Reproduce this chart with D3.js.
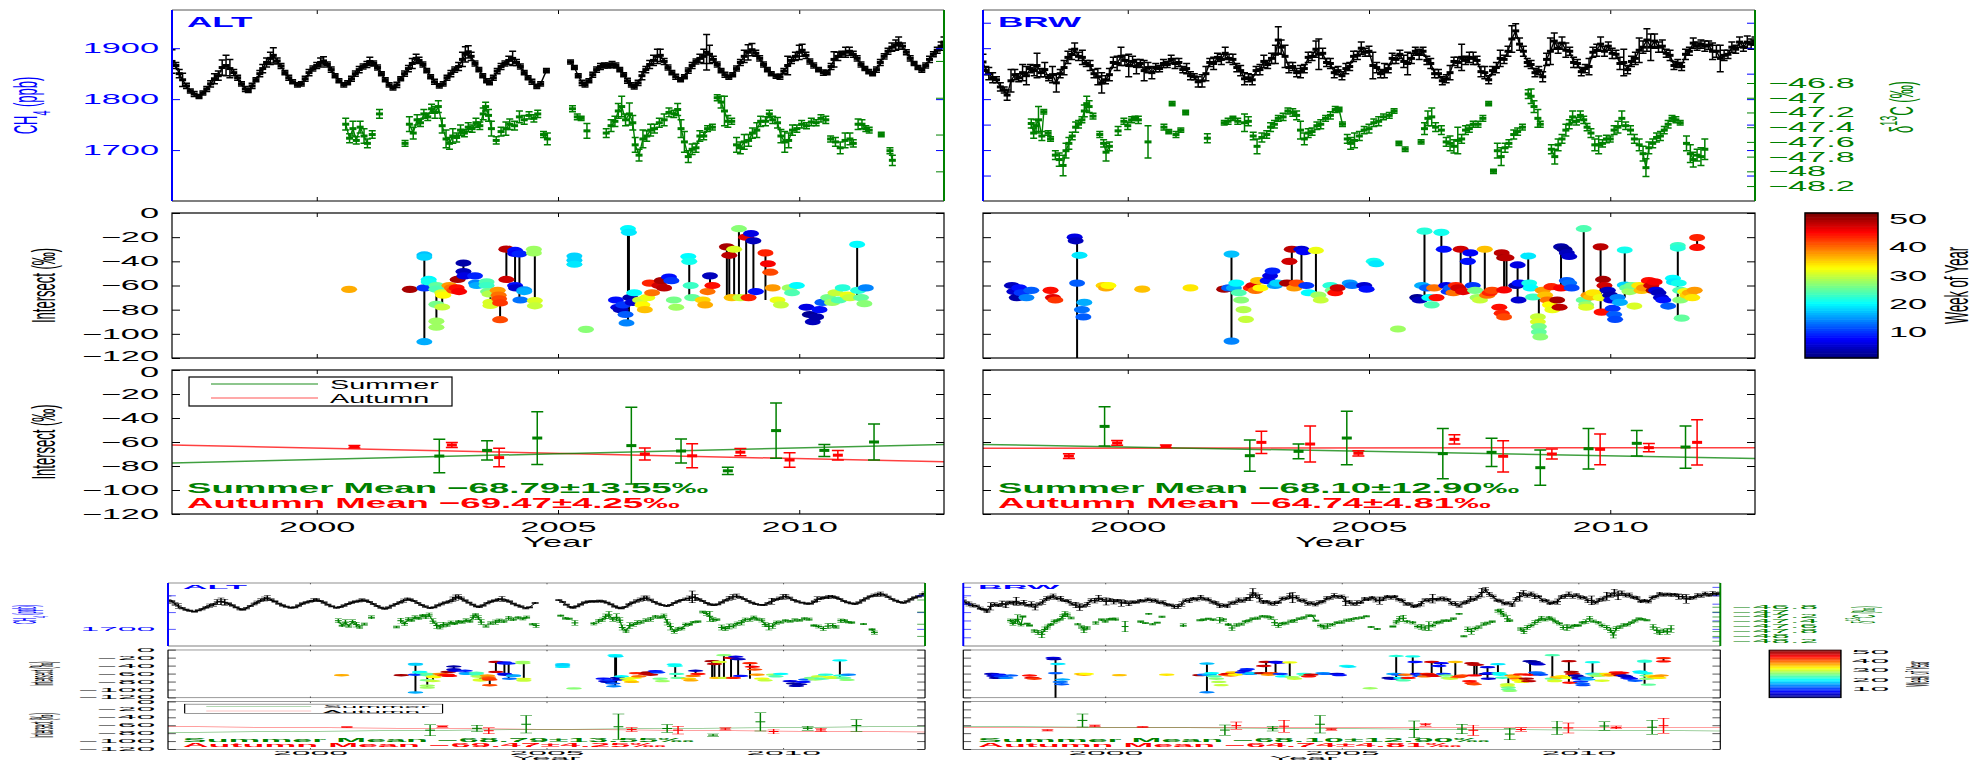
<!DOCTYPE html>
<html>
<head>
<meta charset="utf-8">
<script src="https://cdn.jsdelivr.net/npm/d3@7"></script>
<style>
  body { margin: 0; background: #fff; }
  svg { display: block; }
  text { font-family: "Liberation Sans", Arial, Helvetica, sans-serif; }
</style>
</head>
<body>
<svg id="fig" width="1986" height="761"></svg>
<script>
// ---------------- data ----------------
// CH4 weekly means [decimal year, ppb, error]
const altCH4 = [
[1997.00,1874,23],[1997.08,1866,6],[1997.15,1850,8],[1997.22,1838,13],[1997.30,1826,5],[1997.38,1816,4],[1997.46,1810,5],[1997.56,1805,4],[1997.64,1812,4],[1997.72,1820,5],[1997.80,1830,6],[1997.88,1840,10],[1997.96,1846,9],[1998.04,1862,15],[1998.12,1866,20],[1998.20,1860,18],[1998.28,1852,6],[1998.36,1842,5],[1998.44,1830,4],[1998.52,1820,5],[1998.58,1817,4],[1998.66,1826,5],[1998.74,1838,4],[1998.82,1850,6],[1998.88,1860,8],[1998.96,1872,9],[1999.04,1880,12],[1999.10,1886,15],[1999.18,1875,6],[1999.26,1865,5],[1999.34,1852,4],[1999.42,1842,5],[1999.50,1834,4],[1999.60,1828,4],[1999.68,1830,4],[1999.76,1840,5],[1999.84,1852,6],[1999.92,1860,5],[2000.00,1866,6],[2000.08,1872,9],[2000.14,1875,8],[2000.22,1868,5],[2000.30,1858,5],[2000.38,1846,4],[2000.46,1836,4],[2000.56,1828,4],[2000.64,1832,4],[2000.72,1840,5],[2000.80,1850,5],[2000.88,1858,6],[2000.96,1864,5],[2001.04,1868,6],[2001.10,1874,8],[2001.18,1870,5],[2001.26,1862,5],[2001.34,1850,4],[2001.42,1838,4],[2001.50,1828,4],[2001.58,1822,4],[2001.66,1828,5],[2001.74,1840,4],[2001.82,1850,5],[2001.90,1860,6],[2001.98,1870,10],[2002.06,1880,8],[2002.12,1876,6],[2002.20,1868,5],[2002.28,1856,4],[2002.36,1844,4],[2002.44,1834,5],[2002.54,1826,4],[2002.62,1830,4],[2002.70,1842,5],[2002.78,1850,6],[2002.86,1858,5],[2002.94,1864,8],[2003.02,1878,14],[2003.08,1888,15],[2003.14,1893,12],[2003.20,1884,8],[2003.28,1870,5],[2003.36,1858,4],[2003.44,1846,4],[2003.52,1836,4],[2003.58,1832,4],[2003.66,1842,5],[2003.74,1855,5],[2003.82,1864,6],[2003.90,1870,5],[2003.98,1876,8],[2004.06,1880,14],[2004.14,1872,6],[2004.22,1864,5],[2004.30,1852,4],[2004.38,1842,4],[2004.46,1834,5],[2004.56,1825,4],[2004.64,1830,4],[2004.76,1856,4],
[2005.26,1873,4],[2005.34,1862,4],[2005.42,1846,4],[2005.50,1832,5],[2005.56,1828,4],[2005.64,1836,4],[2005.72,1848,5],[2005.80,1858,5],[2005.88,1864,6],[2005.96,1866,5],[2006.04,1866,5],[2006.12,1868,6],[2006.20,1866,5],[2006.28,1858,4],[2006.36,1848,4],[2006.44,1836,5],[2006.52,1828,4],[2006.58,1824,4],[2006.66,1832,5],[2006.74,1846,8],[2006.82,1858,6],[2006.90,1868,8],[2006.98,1876,10],[2007.06,1884,14],[2007.12,1886,12],[2007.20,1874,6],[2007.28,1862,5],[2007.36,1852,4],[2007.44,1844,5],[2007.54,1838,4],[2007.62,1844,4],[2007.70,1856,5],[2007.78,1866,6],[2007.86,1874,5],[2007.94,1880,8],[2008.02,1884,14],[2008.08,1892,35],[2008.14,1888,18],[2008.22,1878,6],[2008.30,1868,5],[2008.38,1856,4],[2008.46,1848,5],[2008.54,1843,4],[2008.62,1848,4],[2008.70,1860,5],[2008.78,1872,6],[2008.86,1884,12],[2008.94,1892,15],[2009.02,1897,12],[2009.10,1890,6],[2009.18,1880,5],[2009.26,1868,5],[2009.34,1858,4],[2009.42,1850,4],[2009.52,1845,4],[2009.60,1844,5],[2009.68,1855,5],[2009.76,1866,18],[2009.84,1876,6],[2009.92,1884,8],[2010.00,1892,14],[2010.06,1896,12],[2010.14,1886,6],[2010.22,1874,5],[2010.30,1866,5],[2010.40,1858,4],[2010.50,1852,5],[2010.58,1852,4],[2010.66,1864,6],[2010.72,1878,15],[2010.80,1884,8],[2010.88,1888,6],[2010.96,1892,10],[2011.04,1894,8],[2011.12,1888,6],[2011.20,1880,5],[2011.28,1868,5],[2011.36,1860,4],[2011.44,1854,4],[2011.52,1850,4],[2011.60,1858,5],[2011.68,1872,6],[2011.76,1884,5],[2011.84,1894,6],[2011.92,1902,8],[2012.00,1906,10],[2012.06,1910,12],[2012.14,1904,6],[2012.22,1892,5],[2012.30,1880,5],[2012.38,1870,4],[2012.46,1862,4],[2012.54,1857,4],[2012.62,1866,5],[2012.70,1878,6],[2012.78,1888,5],[2012.86,1896,6],[2012.94,1904,8],[2013.00,1912,10]
];
const brwCH4 = [
[1997.00,1873,15],[1997.06,1856,8],[1997.12,1850,12],[1997.20,1842,10],[1997.28,1838,6],[1997.36,1824,8],[1997.44,1818,6],[1997.50,1808,10],[1997.58,1836,22],[1997.66,1848,10],[1997.74,1842,8],[1997.82,1852,16],[1997.90,1846,18],[1997.98,1860,8],[1998.06,1856,10],[1998.12,1866,24],[1998.20,1852,8],[1998.28,1858,14],[1998.36,1842,6],[1998.44,1848,16],[1998.52,1832,18],[1998.60,1850,8],[1998.68,1862,14],[1998.76,1882,12],[1998.84,1888,10],[1998.90,1898,12],[1998.98,1884,8],[1999.06,1882,14],[1999.14,1870,6],[1999.22,1866,10],[1999.30,1850,8],[1999.38,1844,16],[1999.46,1832,20],[1999.54,1838,8],[1999.62,1848,12],[1999.70,1872,10],[1999.78,1870,14],[1999.86,1884,18],[1999.94,1876,10],[2000.02,1866,22],[2000.10,1874,10],[2000.18,1864,14],[2000.26,1870,8],[2000.34,1856,20],[2000.42,1862,10],[2000.50,1852,12],[2000.58,1862,8],[2000.66,1860,6],[2000.74,1870,8],[2000.82,1868,6],[2000.90,1878,8],[2000.98,1870,10],[2001.06,1872,8],[2001.14,1858,6],[2001.22,1860,10],[2001.30,1846,8],[2001.38,1844,6],[2001.46,1834,10],[2001.54,1836,12],[2001.62,1850,14],[2001.70,1872,8],[2001.78,1870,12],[2001.86,1882,8],[2001.94,1878,10],[2002.02,1890,12],[2002.10,1880,8],[2002.18,1878,10],[2002.26,1862,8],[2002.34,1856,10],[2002.42,1840,12],[2002.50,1842,8],[2002.58,1838,10],[2002.66,1856,8],[2002.74,1858,10],[2002.82,1874,12],[2002.90,1868,8],[2002.98,1880,10],[2003.06,1888,18],[2003.12,1916,26],[2003.18,1902,14],[2003.26,1884,22],[2003.34,1862,10],[2003.42,1864,8],[2003.50,1852,8],[2003.58,1854,12],[2003.66,1860,8],[2003.74,1882,10],[2003.82,1884,8],[2003.90,1898,16],[2003.96,1888,30],[2004.04,1890,10],[2004.12,1872,8],[2004.20,1870,10],[2004.28,1852,10],[2004.36,1856,8],[2004.44,1846,8],[2004.52,1860,10],[2004.60,1864,8],[2004.68,1884,10],[2004.76,1886,8],[2004.84,1900,12],[2004.92,1892,8],[2005.00,1894,10],[2005.08,1866,26],[2005.16,1862,10],[2005.24,1850,8],[2005.32,1856,14],[2005.40,1860,8],[2005.48,1880,10],[2005.56,1878,8],[2005.64,1888,8],[2005.72,1874,12],[2005.80,1870,22],[2005.88,1880,10],[2005.96,1894,8],[2006.04,1888,10],[2006.12,1894,8],[2006.20,1876,8],[2006.28,1870,10],[2006.36,1850,8],[2006.44,1850,8],[2006.52,1836,8],[2006.60,1840,8],[2006.68,1852,14],[2006.76,1874,8],[2006.84,1872,10],[2006.92,1882,26],[2007.00,1876,8],[2007.08,1882,10],[2007.16,1880,12],[2007.24,1876,8],[2007.32,1854,10],[2007.40,1852,12],[2007.48,1838,8],[2007.56,1856,8],[2007.64,1862,10],[2007.72,1880,16],[2007.80,1878,8],[2007.88,1894,10],[2007.96,1918,26],[2008.04,1934,14],[2008.12,1908,12],[2008.20,1894,10],[2008.28,1872,8],[2008.36,1868,8],[2008.44,1852,8],[2008.52,1856,8],[2008.60,1844,10],[2008.68,1878,12],[2008.76,1894,26],[2008.84,1914,16],[2008.92,1900,10],[2009.00,1910,12],[2009.08,1896,14],[2009.16,1894,8],[2009.24,1872,10],[2009.32,1870,8],[2009.40,1854,8],[2009.48,1860,8],[2009.56,1864,16],[2009.64,1892,10],[2009.72,1896,12],[2009.80,1908,14],[2009.88,1894,10],[2009.96,1904,8],[2010.04,1890,10],[2010.12,1888,8],[2010.20,1870,12],[2010.28,1872,26],[2010.36,1858,8],[2010.44,1874,10],[2010.52,1880,12],[2010.60,1896,24],[2010.68,1902,12],[2010.76,1916,22],[2010.84,1902,26],[2010.92,1914,14],[2011.00,1902,10],[2011.08,1904,12],[2011.16,1890,8],[2011.24,1886,10],[2011.32,1866,8],[2011.40,1870,8],[2011.48,1864,8],[2011.56,1888,10],[2011.64,1894,8],[2011.72,1910,10],[2011.80,1904,8],[2011.88,1908,8],[2011.96,1904,10],[2012.04,1906,8],[2012.12,1894,16],[2012.20,1894,12],[2012.28,1880,26],[2012.36,1886,10],[2012.44,1888,8],[2012.52,1902,10],[2012.60,1898,8],[2012.68,1912,10],[2012.76,1902,8],[2012.84,1912,12],[2012.92,1908,10],[2013.00,1914,8]
];

// delta13C of CH4 [decimal year, permil, error]
const altD13 = [
[2000.60,-47.36,0.08],[2000.68,-47.55,0.06],[2000.75,-47.42,0.10],[2000.82,-47.58,0.05],[2000.90,-47.40,0.08],[2000.98,-47.52,0.10],[2001.05,-47.62,0.06],[2001.15,-47.50,0.05],[2001.30,-47.22,0.06],
[2001.83,-47.62,0.04],[2001.92,-47.36,0.10],[2002.00,-47.48,0.08],[2002.08,-47.30,0.07],[2002.15,-47.34,0.05],[2002.22,-47.22,0.06],[2002.30,-47.26,0.05],[2002.38,-47.15,0.06],[2002.45,-47.20,0.08],[2002.52,-47.12,0.08],[2002.60,-47.38,0.10],[2002.68,-47.56,0.12],[2002.75,-47.62,0.08],[2002.82,-47.52,0.10],[2002.90,-47.54,0.06],[2002.98,-47.44,0.07],[2003.06,-47.48,0.05],[2003.14,-47.40,0.06],[2003.22,-47.42,0.05],[2003.30,-47.34,0.06],[2003.38,-47.38,0.05],[2003.45,-47.22,0.08],[2003.50,-47.12,0.06],[2003.56,-47.24,0.08],[2003.62,-47.42,0.10],[2003.72,-47.58,0.05],[2003.82,-47.46,0.06],[2003.92,-47.42,0.09],[2004.00,-47.36,0.07],[2004.10,-47.38,0.06],[2004.20,-47.26,0.08],[2004.30,-47.30,0.06],[2004.40,-47.24,0.05],[2004.50,-47.28,0.05],[2004.58,-47.22,0.05],[2004.70,-47.50,0.04],[2004.78,-47.56,0.08],
[2005.30,-47.15,0.04],[2005.40,-47.26,0.04],[2005.48,-47.28,0.03],[2005.60,-47.45,0.10],[2006.00,-47.48,0.06],[2006.10,-47.38,0.08],[2006.18,-47.32,0.07],[2006.25,-47.18,0.10],[2006.32,-47.12,0.14],[2006.40,-47.30,0.08],[2006.48,-47.22,0.15],[2006.55,-47.34,0.10],[2006.60,-47.64,0.10],[2006.68,-47.78,0.08],[2006.76,-47.56,0.12],[2006.84,-47.52,0.07],[2006.92,-47.44,0.08],[2007.00,-47.42,0.06],[2007.10,-47.34,0.06],[2007.20,-47.30,0.08],[2007.30,-47.20,0.06],[2007.40,-47.22,0.05],[2007.48,-47.16,0.08],[2007.55,-47.42,0.12],[2007.62,-47.60,0.14],[2007.70,-47.80,0.08],[2007.78,-47.70,0.07],[2007.86,-47.68,0.06],[2007.94,-47.52,0.07],[2008.02,-47.52,0.05],[2008.10,-47.42,0.04],[2008.20,-47.40,0.04],[2008.30,-47.00,0.04],[2008.38,-47.06,0.08],[2008.45,-47.18,0.20],[2008.52,-47.32,0.08],[2008.60,-47.32,0.04],
[2008.70,-47.64,0.10],[2008.78,-47.68,0.08],[2008.86,-47.60,0.10],[2008.95,-47.58,0.08],[2009.03,-47.48,0.07],[2009.12,-47.44,0.10],[2009.20,-47.32,0.07],[2009.30,-47.32,0.06],[2009.38,-47.22,0.05],[2009.45,-47.30,0.05],[2009.55,-47.34,0.07],[2009.62,-47.52,0.09],[2009.70,-47.60,0.14],[2009.78,-47.58,0.10],[2009.86,-47.44,0.07],[2009.95,-47.42,0.05],[2010.05,-47.36,0.05],[2010.15,-47.38,0.04],[2010.25,-47.33,0.05],[2010.35,-47.34,0.04],[2010.45,-47.28,0.05],[2010.55,-47.30,0.05],
[2010.65,-47.56,0.04],[2010.75,-47.60,0.06],[2010.85,-47.68,0.08],[2010.95,-47.58,0.10],[2011.05,-47.56,0.08],[2011.12,-47.62,0.05],[2011.22,-47.36,0.07],[2011.30,-47.36,0.06],[2011.38,-47.42,0.04],[2011.45,-47.44,0.04],[2011.70,-47.50,0.03],[2011.88,-47.72,0.04],[2011.93,-47.85,0.07]
];
const brwD13 = [
[1998.00,-47.35,0.06],[1998.05,-47.48,0.07],[1998.10,-47.38,0.08],[1998.15,-47.30,0.18],[1998.22,-47.52,0.06],[1998.26,-47.19,0.03],[1998.35,-47.48,0.03],[1998.40,-47.56,0.03],
[1998.50,-47.78,0.06],[1998.58,-47.84,0.09],[1998.66,-47.92,0.14],[1998.72,-47.72,0.10],[1998.78,-47.62,0.08],[1998.85,-47.52,0.05],[1998.92,-47.40,0.07],[1998.98,-47.36,0.05],[1999.05,-47.30,0.04],[1999.10,-47.18,0.08],[1999.15,-47.08,0.10],[1999.20,-47.12,0.08],[1999.28,-47.25,0.04],
[1999.42,-47.50,0.04],[1999.50,-47.62,0.05],[1999.55,-47.74,0.12],[1999.62,-47.66,0.06],[1999.80,-47.45,0.06],[1999.92,-47.32,0.04],[2000.00,-47.38,0.05],[2000.08,-47.30,0.04],[2000.15,-47.28,0.03],[2000.22,-47.30,0.05],[2000.42,-47.60,0.22],[2000.75,-47.40,0.04],[2000.85,-47.46,0.03],[2000.92,-47.08,0.03],[2001.00,-47.50,0.04],[2001.10,-47.44,0.03],[2001.20,-47.20,0.03],
[2001.65,-47.55,0.06],[2002.00,-47.34,0.03],[2002.08,-47.32,0.04],[2002.18,-47.28,0.03],[2002.28,-47.32,0.04],[2002.42,-47.34,0.12],[2002.50,-47.32,0.06],[2002.60,-47.52,0.05],[2002.68,-47.66,0.10],[2002.78,-47.54,0.06],[2002.88,-47.50,0.05],[2002.96,-47.40,0.06],[2003.04,-47.36,0.05],[2003.12,-47.28,0.04],[2003.22,-47.26,0.05],[2003.32,-47.18,0.04],[2003.42,-47.20,0.05],[2003.50,-47.24,0.06],[2003.58,-47.44,0.12],[2003.66,-47.56,0.08],[2003.74,-47.48,0.06],[2003.82,-47.46,0.05],[2003.92,-47.38,0.05],[2004.00,-47.36,0.06],[2004.10,-47.28,0.04],[2004.20,-47.24,0.05],[2004.30,-47.16,0.04],[2004.38,-47.16,0.03],[2004.45,-47.36,0.03],
[2004.55,-47.56,0.06],[2004.62,-47.62,0.08],[2004.70,-47.58,0.10],[2004.80,-47.52,0.06],[2004.90,-47.44,0.05],[2005.00,-47.42,0.06],[2005.10,-47.34,0.05],[2005.20,-47.32,0.06],[2005.30,-47.26,0.04],[2005.42,-47.24,0.04],[2005.52,-47.18,0.03],[2005.62,-47.62,0.03],[2005.75,-47.70,0.03],
[2006.08,-47.60,0.03],[2006.15,-47.42,0.08],[2006.22,-47.28,0.10],[2006.30,-47.26,0.12],[2006.38,-47.40,0.06],[2006.50,-47.44,0.06],[2006.60,-47.60,0.06],[2006.68,-47.62,0.10],[2006.76,-47.66,0.09],[2006.84,-47.58,0.18],[2006.92,-47.56,0.06],[2007.00,-47.44,0.06],[2007.08,-47.42,0.05],[2007.16,-47.36,0.04],[2007.26,-47.36,0.04],[2007.36,-47.28,0.04],[2007.48,-47.08,0.03],[2007.58,-48.00,0.03],
[2007.66,-47.72,0.10],[2007.74,-47.80,0.12],[2007.82,-47.68,0.06],[2007.90,-47.62,0.05],[2008.00,-47.50,0.06],[2008.08,-47.46,0.05],[2008.18,-47.40,0.04],[2008.30,-46.95,0.06],[2008.36,-46.98,0.10],[2008.42,-47.12,0.08],[2008.50,-47.28,0.12],[2008.55,-47.36,0.04],
[2008.78,-47.70,0.06],[2008.85,-47.80,0.10],[2008.92,-47.64,0.08],[2009.00,-47.56,0.06],[2009.08,-47.44,0.08],[2009.15,-47.36,0.06],[2009.22,-47.26,0.08],[2009.30,-47.32,0.05],[2009.38,-47.24,0.06],[2009.45,-47.30,0.05],[2009.52,-47.40,0.05],[2009.60,-47.48,0.06],[2009.68,-47.64,0.08],[2009.76,-47.64,0.12],[2009.84,-47.62,0.05],[2009.92,-47.56,0.05],[2010.00,-47.56,0.04],[2010.08,-47.44,0.06],[2010.16,-47.40,0.08],[2010.24,-47.28,0.10],[2010.32,-47.38,0.05],[2010.42,-47.44,0.06],[2010.50,-47.56,0.06],[2010.60,-47.64,0.08],[2010.68,-47.76,0.10],[2010.74,-47.95,0.12],[2010.80,-47.68,0.08],[2010.88,-47.62,0.06],[2010.96,-47.54,0.06],[2011.04,-47.52,0.06],[2011.12,-47.44,0.05],[2011.20,-47.36,0.05],[2011.28,-47.28,0.04],[2011.36,-47.30,0.04],[2011.45,-47.34,0.03],[2011.58,-47.62,0.10],[2011.66,-47.76,0.12],[2011.72,-47.84,0.10],[2011.80,-47.78,0.08],[2011.88,-47.80,0.12],[2011.96,-47.70,0.14]
];

// Keeling intercepts per week [decimal year, permil, week of year]
const altPts = [
[2000.67,-63.2,37],[2001.93,-63.2,50],
[2002.23,-34.7,17],[2002.23,-36.5,18],[2002.23,-62,10],[2002.23,-106.5,16],[2002.32,-55,20],[2002.32,-57,21],
[2002.48,-60,25],[2002.48,-63,24],[2002.48,-75.6,26],[2002.48,-89.5,28],[2002.48,-94.5,28],
[2002.60,-66,31],[2002.60,-77.8,30],[2002.62,-68,33],
[2002.75,-60,38],[2002.80,-62,40],[2002.85,-64,42],[2002.90,-62,45],[2002.95,-65,46],[2002.92,-55,50],
[2003.04,-41.4,3],[2003.04,-48.4,4],[2003.06,-52,6],[2003.28,-52,9],[2003.30,-58,14],[2003.32,-60,16],
[2003.52,-57,24],[2003.52,-60,23],[2003.55,-65,26],[2003.58,-67,29],[2003.60,-74,31],[2003.60,-76.5,31],
[2003.75,-64,38],[2003.77,-68,40],[2003.78,-71,42],[2003.80,-74.4,43],[2003.80,-88.3,42],
[2003.93,-29.9,49],[2003.93,-55,48],[2004.11,-31,8],[2004.11,-33.5,7],[2004.11,-60,8],[2004.13,-62,5],
[2004.20,-33.8,9],[2004.22,-72,13],[2004.30,-63.7,15],[2004.30,-65,16],
[2004.50,-30,28],[2004.50,-33,28],[2004.52,-72.5,31],[2004.52,-76.8,30],
[2005.34,-35.6,18],[2005.34,-39,18],[2005.34,-42.4,19],[2005.58,-96.3,27],
[2006.20,-72,8],[2006.25,-78,6],[2006.30,-80,4],[2006.35,-76,10],[2006.40,-84,12],[2006.42,-91,14],[2006.45,-13,20],[2006.47,-16,19],[2006.50,-70,3],[2006.55,-74,5],[2006.58,-66,20],
[2006.70,-72,30],[2006.75,-76,33],[2006.80,-80,36],[2006.85,-70,32],[2006.90,-58,44],[2006.95,-66,40],
[2007.10,-60,48],[2007.15,-56,50],[2007.20,-62,49],[2007.30,-53,8],[2007.35,-56,10],[2007.40,-72,26],[2007.45,-78,28],
[2007.70,-36,20],[2007.72,-40,21],[2007.75,-60,23],[2007.78,-70,25],
[2008.00,-72,35],[2008.05,-76,37],[2008.10,-65,40],[2008.15,-52,4],[2008.20,-60,45],
[2008.50,-28,50],[2008.55,-35,49],[2008.60,-70,36],[2008.65,-30,31],[2008.75,-13,27],[2008.78,-70,30],
[2008.90,-20,47],[2008.95,-70,44],[2009.00,-17,6],[2009.05,-23,4],[2009.10,-65,8],
[2009.30,-33,44],[2009.35,-42,46],[2009.40,-49,42],[2009.45,-62,38],[2009.55,-72,32],[2009.62,-76,30],
[2009.80,-62,28],[2009.85,-66,24],[2009.95,-60,20],
[2010.15,-78,6],[2010.22,-84,2],[2010.28,-90,4],[2010.35,-86,3],[2010.42,-80,8],[2010.48,-74,12],
[2010.60,-70,26],[2010.68,-74,28],[2010.75,-66,30],[2010.82,-72,24],[2010.90,-62,22],[2011.00,-68,32],[2011.05,-70,30],
[2011.20,-26,20],[2011.22,-64,22],[2011.28,-70,25],[2011.35,-75,27],[2011.38,-62,14]
];
const brwPts = [
[1997.60,-60,4],[1997.65,-65,5],[1997.70,-70,3],[1997.75,-62,8],[1997.80,-66,10],[1997.90,-70,14],[1998.00,-64,12],
[1998.40,-64,45],[1998.45,-70,47],[1998.50,-72,43],
[1998.90,-20,6],[1998.92,-23,4],[1998.95,-58,12],[1999.00,-35,19],[1999.05,-80,13],[1999.08,-86,12],[1999.10,-74,16],
[1999.50,-60,35],[1999.55,-62,37],[1999.60,-60,33],[2000.30,-63,36],[2001.30,-62,34],
[2002.00,-63,50],[2002.10,-62,12],[2002.15,-34,17],[2002.15,-106,14],[2002.20,-62,16],[2002.25,-58,20],[2002.30,-66,24],[2002.35,-72,27],[2002.40,-80,29],[2002.45,-88,30],
[2002.55,-62,44],[2002.60,-60,47],[2002.65,-64,40],[2002.70,-56,36],[2002.75,-62,33],
[2002.90,-56,8],[2002.95,-52,6],[2003.00,-48,9],[2003.05,-60,15],[2003.10,-58,18],
[2003.30,-58,50],[2003.35,-40,48],[2003.40,-30,49],[2003.45,-62,38],[2003.50,-58,42],
[2003.60,-30,5],[2003.65,-32,7],[2003.70,-60,10],[2003.75,-66,20],
[2003.90,-31,32],[2003.95,-68,28],[2004.00,-72,30],
[2004.20,-60,22],[2004.25,-64,26],[2004.30,-66,45],[2004.35,-62,48],
[2004.60,-58,15],[2004.65,-60,13],[2004.90,-60,5],[2004.95,-63,8],
[2005.10,-40,21],[2005.15,-42,19],[2005.60,-96,28],
[2006.00,-70,2],[2006.05,-72,4],[2006.10,-60,16],[2006.15,-15,22],[2006.20,-62,12],[2006.25,-70,20],[2006.30,-76,24],[2006.35,-62,40],[2006.40,-70,45],
[2006.50,-16,21],[2006.55,-30,8],[2006.60,-60,6],[2006.65,-65,10],[2006.70,-62,12],[2006.75,-66,40],[2006.80,-60,44],[2006.85,-62,48],[2006.90,-30,48],[2006.95,-65,47],
[2007.05,-40,8],[2007.10,-33,7],[2007.15,-60,10],[2007.20,-64,26],[2007.25,-70,28],[2007.30,-72,30],
[2007.40,-30,36],[2007.45,-68,40],[2007.50,-66,44],[2007.55,-64,42],
[2007.70,-78,45],[2007.75,-83,44],[2007.80,-86,42],[2007.75,-33,49],[2007.80,-37,50],[2007.85,-37,49],[2007.80,-63.7,46],
[2008.08,-43,6],[2008.10,-72,5],[2008.05,-60,3],[2008.12,-58,8],
[2008.30,-35.6,19],[2008.32,-58,21],[2008.35,-62,20],[2008.40,-69.5,23],
[2008.50,-86,30],[2008.50,-90,31],[2008.52,-94,26],[2008.52,-98.4,25],[2008.55,-102.5,27],
[2008.60,-64,38],[2008.65,-68,36],[2008.70,-72,40],[2008.75,-76,33],[2008.80,-80,32],[2008.78,-61,44],
[2008.90,-72,50],[2008.95,-78,49],[2008.98,-62,46],
[2008.98,-28,3],[2009.05,-30,2],[2009.10,-33,4],[2009.15,-36,5],[2009.10,-56,12],[2009.15,-58,13],[2009.20,-62,11],
[2009.45,-13,24],[2009.45,-72,25],[2009.50,-76,28],[2009.50,-78,31],
[2009.55,-68,38],[2009.60,-69.5,36],[2009.65,-66,34],
[2009.80,-28,49],[2009.80,-70,32],[2009.82,-82,45],[2009.85,-55,50],[2009.88,-60,48],
[2009.95,-64,4],[2010.00,-68,3],[2010.02,-72,6],[2010.05,-79,10],[2010.08,-84,12],[2010.10,-88,11],[2010.15,-70,14],[2010.20,-74,16],
[2010.30,-30.6,21],[2010.30,-59.6,18],[2010.35,-62,25],[2010.40,-65,28],[2010.45,-60,26],[2010.50,-77,31],
[2010.60,-60,34],[2010.65,-64,36],[2010.70,-62,38],
[2010.80,-56,45],[2010.85,-60,48],[2010.90,-64,50],[2010.92,-57,46],
[2010.95,-64,6],[2011.00,-66,4],[2011.05,-70,5],[2011.10,-72,8],[2011.20,-77,12],
[2011.30,-54,20],[2011.32,-57,19],
[2011.40,-27,23],[2011.40,-29,22],[2011.42,-58,21],[2011.45,-64,24],[2011.45,-72,27],[2011.48,-87,25],
[2011.55,-65,32],[2011.60,-68,35],[2011.65,-66,37],[2011.70,-70,34],[2011.75,-64,38],
[2011.80,-20.4,44],[2011.80,-28.5,45]
];
// intercept ranges drawn as black stems [decimal year, low, high]
const altBars = [
[2002.23,-106.5,-34.7],[2002.48,-94.5,-60],[2002.60,-77.8,-66],[2003.04,-52,-41.4],[2003.55,-65,-57],[2003.60,-76.5,-67],[2003.80,-88.3,-71],[2003.93,-55,-29.9],[2004.11,-62,-31],[2004.20,-72,-33.8],[2004.52,-76.8,-30],
[2006.45,-91,-13],[2006.47,-84,-16],[2007.72,-70,-36],[2008.15,-60,-52],[2008.50,-70,-28],[2008.55,-70,-35],[2008.65,-72,-30],[2008.75,-72,-13],[2008.90,-70,-20],[2009.05,-65,-23],[2009.30,-72,-33],[2011.20,-70,-26]
];
const brwBars = [
[1998.95,-130,-20],[2002.15,-106,-34],[2003.40,-62,-30],[2003.60,-60,-30],[2003.90,-68,-31],[2006.15,-70,-15],[2006.50,-60,-16],[2006.90,-65,-30],[2007.10,-64,-33],[2007.40,-68,-30],[2007.80,-64,-33],[2007.85,-64,-37],[2008.08,-72,-43],[2008.30,-62,-35.6],[2008.52,-102.5,-69.5],[2008.98,-62,-28],[2009.45,-78,-13],[2009.80,-82,-28],[2010.30,-70,-30.6],[2011.40,-87,-27],[2011.80,-28.5,-20.4]
];

// seasonal mean intercepts [decimal year, permil, error]
const altSummer = [[2002.54,-71.7,14],[2003.53,-67,8],[2004.57,-56.7,22],[2006.52,-63,32],[2007.55,-67.5,10],[2008.52,-84,3],[2009.52,-50.5,23],[2010.52,-67,5],[2011.55,-60,15]];
const altAutumn = [[2000.78,-63.9,1],[2002.80,-62.5,2],[2003.78,-73,7.7],[2006.80,-70,5],[2007.78,-71.5,10],[2008.78,-68.5,3],[2009.80,-75,6],[2010.80,-71,4]];
const brwSummer = [[1999.52,-47,16.4],[2002.53,-71.4,13],[2003.54,-67.8,6.2],[2004.54,-56.7,22.3],[2006.53,-69.7,21],[2007.54,-68.6,11.8],[2008.55,-81.4,14.7],[2009.55,-65.6,16.8],[2010.55,-61.1,10.6],[2011.56,-64.2,17.6]];
const brwAutumn = [[1998.78,-71.7,2],[1999.78,-60.8,2],[2000.79,-63.6,1],[2002.77,-60.3,9.2],[2003.78,-61.7,15],[2004.78,-69.4,2.2],[2006.77,-57.8,3.9],[2007.78,-71.9,13],[2008.79,-70,4.2],[2009.79,-66.1,12.8],[2010.80,-64.7,3.5],[2011.80,-60.3,18.9]];
// linear trends [year, permil] at both ends
const altSummerTrend = [[1997,-77.5],[2013,-62]];
const altAutumnTrend = [[1997,-62.5],[2013,-76.5]];
const brwSummerTrend = [[1997,-62],[2013,-73.7]];
const brwAutumnTrend = [[1997,-65.3],[2013,-64.7]];
// mean ± sd
const altSummerMean = [-68.79, 13.55];
const altAutumnMean = [-69.47, 4.25];
const brwSummerMean = [-68.10, 12.90];
const brwAutumnMean = [-64.74, 4.81];

// axes
const yearDomain = [1997, 2013];
const yearTicks = [2000, 2005, 2010];
const ch4Domain = [1600, 1975];
const d13Domain = [-48.403, -45.808];
const interDomain = [-120, 0];
const interTicks = [-120, -100, -80, -60, -40, -20, 0];
const altCH4Ticks = [1700, 1800, 1900];
const brwCH4Ticks = [1650, 1700, 1750, 1800, 1850, 1900, 1950];
const altD13Ticks = [-46.5, -47, -47.5, -48];
const brwD13Ticks = [-46.8, -47, -47.2, -47.4, -47.6, -47.8, -48, -48.2];
const weekDomain = [1, 52];
const weekTicks = [10, 20, 30, 40, 50];

// ---------------- drawing ----------------
const SX = 2.45;          // horizontal text stretch
const BLUE = '#0000ff', GREEN = '#008000', RED = '#ff0000';
const rows = [[10, 201], [213, 358], [370, 514]];

const stations = [
  { name: 'ALT', cols: [172, 944], ch4: altCH4, d13: altD13, d13Gap: 0.09, pts: altPts, bars: altBars,
    summer: altSummer, autumn: altAutumn, sTrend: altSummerTrend, aTrend: altAutumnTrend,
    sMean: altSummerMean, aMean: altAutumnMean, ch4Ticks: altCH4Ticks, d13Ticks: altD13Ticks,
    leftLabels: true, rightLabels: false, legend: true, yearX: 558 },
  { name: 'BRW', cols: [983, 1755], ch4: brwCH4, d13: brwD13, d13Gap: 0.07, pts: brwPts, bars: brwBars,
    summer: brwSummer, autumn: brwAutumn, sTrend: brwSummerTrend, aTrend: brwAutumnTrend,
    sMean: brwSummerMean, aMean: brwAutumnMean, ch4Ticks: brwCH4Ticks, d13Ticks: brwD13Ticks,
    leftLabels: false, rightLabels: true, legend: false, yearX: 1330 }
];

function jet(t) {
  t = Math.max(0, Math.min(1, t));
  const c = v => Math.round(255 * Math.max(0, Math.min(1, v)));
  return `rgb(${c(1.5 - Math.abs(4 * t - 3))},${c(1.5 - Math.abs(4 * t - 2))},${c(1.5 - Math.abs(4 * t - 1))})`;
}
const weekColor = d3.scaleLinear().domain(weekDomain).range([0, 1]);

const minus = s => s.replace('-', '\u2212');
const fmtInt = d3.format('d');
const fmtD13 = d => minus(String(+d.toFixed(1)));
const fmt2 = v => minus(v.toFixed(2));

function stext(g, x, y, str, o = {}) {
  const sx = o.sx || SX;
  return g.append('text')
    .attr('transform', `translate(${x},${y}) scale(${sx},1)` + (o.rot ? ' rotate(-90)' : ''))
    .attr('text-anchor', o.anchor || 'start')
    .attr('font-size', o.size || 14)
    .attr('font-weight', o.bold ? 'bold' : null)
    .attr('fill', o.color || '#000')
    .text(str);
}

function axis(g, gen, o) {
  const a = g.append('g').attr('transform', o.t || null).call(gen);
  a.attr('font-family', null).attr('font-size', o.size || 14);
  a.select('.domain').remove();
  a.selectAll('.tick line').attr('stroke', o.color || '#000').attr('stroke-width', 1);
  const tx = a.selectAll('.tick text');
  if (!o.labels) { tx.remove(); return a; }
  tx.attr('fill', o.color || '#000').each(function (d) {
    const t = d3.select(this);
    if (o.hide && o.hide.includes(d)) { t.remove(); return; }
    t.attr('x', (+t.attr('x') || 0) / SX).attr('transform', `scale(${SX},1)`);
    if (o.nudge && o.nudge[d] !== undefined) t.attr('y', o.nudge[d]);
  });
  return a;
}

function clip(root, id, x0, x1, y0, y1) {
  root.append('clipPath').attr('id', id).append('rect')
    .attr('x', x0).attr('y', y0).attr('width', x1 - x0).attr('height', y1 - y0);
  return `url(#${id})`;
}

function errSeries(g, data, x, y, color, gap, capW) {
  const segs = []; let cur = [];
  data.forEach((d, i) => {
    if (i && d[0] - data[i - 1][0] > gap) { segs.push(cur); cur = []; }
    cur.push(d);
  });
  segs.push(cur);
  const line = d3.line().x(d => x(d[0])).y(d => y(d[1]));
  g.selectAll(null).data(segs.filter(s => s.length > 1)).join('path')
    .attr('d', line).attr('fill', 'none').attr('stroke', color).attr('stroke-width', 1.4);
  g.selectAll(null).data(data).join('path')
    .attr('d', d => {
      const cx = x(d[0]), a = y(d[1] - d[2]), b = y(d[1] + d[2]);
      return `M${cx},${a}V${b}M${cx - capW / 2},${a}h${capW}M${cx - capW / 2},${b}h${capW}`;
    })
    .attr('fill', 'none').attr('stroke', color).attr('stroke-width', 1.5);
  g.selectAll(null).data(data).join('rect')
    .attr('x', d => x(d[0]) - 3.5).attr('y', d => y(d[1]) - 1.5)
    .attr('width', 7).attr('height', 3).attr('fill', color);
}

function drawFigure(root, o) {
  const P = o.prefix;
  stations.forEach((st, si) => {
    const [x0, x1] = st.cols;
    const x = d3.scaleLinear().domain(yearDomain).range([x0, x1]);

    // ---- row 1 : CH4 and delta13C ----
    {
      const [ya, yb] = rows[0];
      const yC = d3.scaleLinear().domain(ch4Domain).range([yb, ya]);
      const yD = d3.scaleLinear().domain(d13Domain).range([yb, ya]);
      const g = root.append('g').attr('clip-path', clip(root, `${P}c1${si}`, x0, x1, ya, yb));
      errSeries(g.append('g'), st.ch4, x, yC, '#000', 0.3, 7);
      errSeries(g.append('g'), st.d13, x, yD, GREEN, st.d13Gap, 7);

      axis(root, d3.axisLeft(yC).tickValues(st.ch4Ticks).tickSize(-8).tickPadding(13).tickFormat(fmtInt),
        { t: `translate(${x0},0)`, color: BLUE, labels: st.leftLabels, hide: o.hideCH4 });
      axis(root, d3.axisRight(yC).tickValues(st.ch4Ticks).tickSize(-8),
        { t: `translate(${x1},0)`, color: BLUE, labels: false });
      axis(root, d3.axisRight(yD).tickValues(st.d13Ticks).tickSize(-8).tickPadding(13).tickFormat(fmtD13),
        { t: `translate(${x1},0)`, color: GREEN, labels: st.rightLabels });
      axis(root, d3.axisBottom(x).tickValues(yearTicks).tickSize(-4), { t: `translate(0,${yb})`, labels: false });
      axis(root, d3.axisTop(x).tickValues(yearTicks).tickSize(-4), { t: `translate(0,${ya})`, labels: false });

      root.append('line').attr('x1', x0).attr('x2', x1).attr('y1', ya).attr('y2', ya).attr('stroke', '#555').attr('stroke-width', 1);
      root.append('line').attr('x1', x0).attr('x2', x1).attr('y1', yb).attr('y2', yb).attr('stroke', '#000').attr('stroke-width', 1.2);
      root.append('line').attr('x1', x0).attr('x2', x0).attr('y1', ya).attr('y2', yb).attr('stroke', BLUE).attr('stroke-width', 2);
      root.append('line').attr('x1', x1).attr('x2', x1).attr('y1', ya).attr('y2', yb).attr('stroke', GREEN).attr('stroke-width', 2);

      stext(root, x0 + 15, 27, st.name, { bold: true, color: BLUE, size: 14, sx: 2.5 });

      if (st.leftLabels) {
        const t = stext(root, 37, (ya + yb) / 2, '', { rot: true, anchor: 'middle', size: 13, color: BLUE, sx: 2.6 });
        t.append('tspan').text('CH');
        t.append('tspan').attr('font-size', 9).attr('dy', 5).text('4');
        t.append('tspan').attr('dy', -5).text(' (ppb)');
      }
      if (st.rightLabels) {
        const t = stext(root, 1913, 107, '', { rot: true, anchor: 'middle', size: 13, color: GREEN, sx: 2.6 });
        t.append('tspan').text('\u03b4');
        t.append('tspan').attr('font-size', 9).attr('dy', -6).text('13');
        t.append('tspan').attr('dy', 6).text('C (\u2030)');
      }
    }

    // ---- row 2 : weekly intercepts coloured by week ----
    {
      const [ya, yb] = rows[1];
      const y = d3.scaleLinear().domain(interDomain).range([yb, ya]);
      const g = root.append('g').attr('clip-path', clip(root, `${P}c2${si}`, x0, x1, ya, yb));
      g.selectAll(null).data(st.bars).join('line')
        .attr('x1', d => x(d[0])).attr('x2', d => x(d[0]))
        .attr('y1', d => y(d[1])).attr('y2', d => y(d[2]))
        .attr('stroke', '#000').attr('stroke-width', 2);
      g.selectAll(null).data(st.pts).join('ellipse')
        .attr('cx', d => x(d[0])).attr('cy', d => y(d[1]))
        .attr('rx', 8).attr('ry', 3.6)
        .attr('fill', d => jet(weekColor(d[2])));
      root.append('rect').attr('x', x0).attr('y', ya).attr('width', x1 - x0).attr('height', yb - ya)
        .attr('fill', 'none').attr('stroke', '#000').attr('stroke-width', 1.2);
      axis(root, d3.axisLeft(y).tickValues(interTicks).tickSize(-8).tickPadding(13).tickFormat(fmtInt),
        { t: `translate(${x0},0)`, labels: st.leftLabels, nudge: { '-120': -2 } });
      axis(root, d3.axisRight(y).tickValues(interTicks).tickSize(-8), { t: `translate(${x1},0)`, labels: false });
      axis(root, d3.axisBottom(x).tickValues(yearTicks).tickSize(-4), { t: `translate(0,${yb})`, labels: false });
      axis(root, d3.axisTop(x).tickValues(yearTicks).tickSize(-4), { t: `translate(0,${ya})`, labels: false });
      if (st.leftLabels) {
        stext(root, 55, (ya + yb) / 2, 'Intersect (\u2030)', { rot: true, anchor: 'middle', size: 13, sx: 2.6 });
      }
    }

    // ---- row 3 : seasonal means with trends ----
    {
      const [ya, yb] = rows[2];
      const y = d3.scaleLinear().domain(interDomain).range([yb, ya]);
      const g = root.append('g').attr('clip-path', clip(root, `${P}c3${si}`, x0, x1, ya, yb));
      const tl = d3.line().x(d => x(d[0])).y(d => y(d[1]));
      g.append('path').datum(st.aTrend).attr('d', tl).attr('stroke', RED).attr('stroke-opacity', 0.75).attr('stroke-width', 1.5).attr('fill', 'none');
      g.append('path').datum(st.sTrend).attr('d', tl).attr('stroke', GREEN).attr('stroke-opacity', 0.75).attr('stroke-width', 1.5).attr('fill', 'none');

      const seasonBars = (data, color) => {
        g.selectAll(null).data(data).join('path')
          .attr('d', d => {
            const cx = x(d[0]), a = y(d[1] - d[2]), b = y(d[1] + d[2]);
            return `M${cx},${a}V${b}M${cx - 6},${a}h12M${cx - 6},${b}h12`;
          })
          .attr('fill', 'none').attr('stroke', color).attr('stroke-width', 1.5);
        g.selectAll(null).data(data).join('rect')
          .attr('x', d => x(d[0]) - 5).attr('y', d => y(d[1]) - 1.5)
          .attr('width', 10).attr('height', 3).attr('fill', color);
      };
      seasonBars(st.summer, GREEN);
      seasonBars(st.autumn, RED);

      root.append('rect').attr('x', x0).attr('y', ya).attr('width', x1 - x0).attr('height', yb - ya)
        .attr('fill', 'none').attr('stroke', '#000').attr('stroke-width', 1.2);
      axis(root, d3.axisLeft(y).tickValues(interTicks).tickSize(-8).tickPadding(13).tickFormat(fmtInt),
        { t: `translate(${x0},0)`, labels: st.leftLabels, nudge: { '0': 2 } });
      axis(root, d3.axisRight(y).tickValues(interTicks).tickSize(-8), { t: `translate(${x1},0)`, labels: false });
      axis(root, d3.axisBottom(x).tickValues(yearTicks).tickSize(-4).tickPadding(8).tickFormat(fmtInt),
        { t: `translate(0,${yb})`, labels: true });
      axis(root, d3.axisTop(x).tickValues(yearTicks).tickSize(-4), { t: `translate(0,${ya})`, labels: false });
      if (st.leftLabels) {
        stext(root, 55, (ya + yb) / 2, 'Intersect (\u2030)', { rot: true, anchor: 'middle', size: 13, sx: 2.6 });
      }
      stext(root, st.yearX, 547, 'Year', { anchor: 'middle', size: 14 });

      stext(root, x0 + 15, 493, `Summer Mean ${fmt2(st.sMean[0])}\u00b1${st.sMean[1].toFixed(2)}\u2030`, { bold: true, color: GREEN, size: 15, sx: 2.44 });
      stext(root, x0 + 15, 508, `Autumn Mean ${fmt2(st.aMean[0])}\u00b1${st.aMean[1].toFixed(2)}\u2030`, { bold: true, color: RED, size: 15, sx: 2.44 });

      if (st.legend) {
        const lg = root.append('g');
        lg.append('rect').attr('x', x0 + 17).attr('y', ya + 7).attr('width', 263).attr('height', 29)
          .attr('fill', '#fff').attr('stroke', '#000').attr('stroke-width', 1.2);
        lg.append('line').attr('x1', x0 + 39).attr('x2', x0 + 146).attr('y1', ya + 14).attr('y2', ya + 14)
          .attr('stroke', GREEN).attr('stroke-opacity', 0.6).attr('stroke-width', 1.3);
        lg.append('line').attr('x1', x0 + 39).attr('x2', x0 + 146).attr('y1', ya + 28).attr('y2', ya + 28)
          .attr('stroke', RED).attr('stroke-opacity', 0.45).attr('stroke-width', 1.6);
        stext(lg, x0 + 158, ya + 19, 'Summer', { size: 12, sx: 2.4 });
        stext(lg, x0 + 158, ya + 33, 'Autumn', { size: 12, sx: 2.4 });
      }
    }
  });

  // ---- colour bar ----
  {
    const cx0 = 1805, cx1 = 1878, [ya, yb] = rows[1];
    const yW = d3.scaleLinear().domain(weekDomain).range([yb, ya]);
    const n = 64, step = (weekDomain[1] - weekDomain[0]) / n;
    root.append('g').selectAll(null).data(d3.range(n)).join('rect')
      .attr('x', cx0).attr('width', cx1 - cx0)
      .attr('y', i => yW(weekDomain[0] + (i + 1) * step) - 0.3)
      .attr('height', i => yW(weekDomain[0] + i * step) - yW(weekDomain[0] + (i + 1) * step) + 0.6)
      .attr('fill', i => jet(i / (n - 1)));
    root.append('rect').attr('x', cx0).attr('y', ya).attr('width', cx1 - cx0).attr('height', yb - ya)
      .attr('fill', 'none').attr('stroke', '#000').attr('stroke-width', 1.5);
    axis(root, d3.axisRight(yW).tickValues(weekTicks).tickSize(0).tickPadding(11).tickFormat(fmtInt),
      { t: `translate(${cx1},0)`, labels: true });
    stext(root, 1968, (ya + yb) / 2, 'Week of Year', { rot: true, anchor: 'middle', size: 13, sx: 2.6 });
  }
}

const svg = d3.select('#fig');
drawFigure(svg.append('g'), { prefix: 'top' });
// compressed copy of the full figure underneath
drawFigure(svg.append('g').attr('transform', 'matrix(0.9806,0,0,0.33,-0.66,579.7)'),
  { prefix: 'bot', hideCH4: [1800, 1900] });
</script>
</body>
</html>
